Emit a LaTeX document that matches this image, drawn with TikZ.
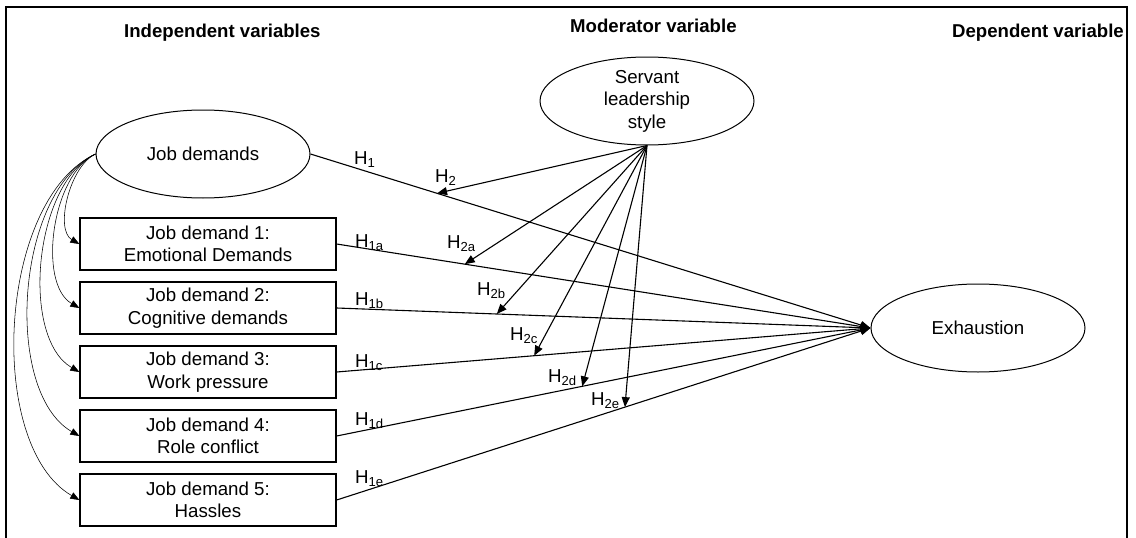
\documentclass[tikz,border=0pt]{standalone}
\usepackage{fontspec}
\setmainfont{Liberation Sans}
\usetikzlibrary{shapes,arrows.meta}

\begin{document}
\begin{tikzpicture} [x=1pt,y=1pt,
  txt/.style={font=\fontsize{18.7}{22.5}\selectfont},
  head/.style={font=\bfseries\fontsize{18.6}{21}\selectfont,anchor=base west,inner sep=0},
  ellip/.style={txt,shape=ellipse,draw,line width=1pt,minimum width=214pt,minimum height=88pt,inner sep=0,align=center},
  jbox/.style={txt,shape=rectangle,draw,line width=1.3pt,minimum width=256pt,minimum height=52pt,inner sep=0,align=center},
  arr/.style={line width=1.1pt,-{Triangle[length=10pt,width=8pt]}},
  cur/.style={line width=0.55pt,-{Triangle[length=9pt,width=7pt]}},
  lab/.style={txt,anchor=base west,inner sep=0}]
\useasboundingbox (0,0) rectangle (1136,-538);
\draw[line width=1.3pt] (6,-538) -- (6,-7) -- (1127,-7) -- (1127,-538);
\node[head] (hi) at (124,-37) {Independent variables};
\node[head] (hm) at (570,-32) {Moderator variable};
\node[head] (hd) at (952,-37) {Dependent variable};
\node[ellip] (jd) at (203,-154) {Job demands};
\node[ellip] (sl) at (647,-101) {Servant\\leadership\\style};
\node[ellip] (ex) at (978,-328) {Exhaustion};
\foreach \i/\t in {1/Emotional Demands,2/Cognitive demands,3/Work pressure,4/Role conflict,5/Hassles}{%
  \node[jbox] (b\i) at (208,{-244-64*(\i-1)}) {Job demand \i:\\\t};}
\draw[arr] (jd.east) -- coordinate[pos=0.226] (m0) (ex.west);
\foreach \i/\p in {1/0.24,2/0.30,3/0.37,4/0.46,5/0.54}{%
  \draw[arr] (b\i.east) -- coordinate[pos=\p] (m\i) (ex.west);}
\foreach \i in {0,...,5}{%
  \draw[arr] (sl.south) -- (m\i);}
\foreach \i in {1,...,5}{%
  \draw[cur] (jd.west) to[out=205,in=150,looseness=0.8] (b\i.west);}
\node[lab] (h1) at (354,-164) {H\textsubscript{1}};
\node[lab] (h2) at (435,-182) {H\textsubscript{2}};
\foreach \s/\y in {a/247,b/305,c/367,d/425,e/483}{%
  \node[lab] (h1\s) at (355,-\y) {H\textsubscript{1\s}};}
\foreach \s/\x/\y in {a/447/248,b/477/295,c/510/340,d/548/382,e/591/405}{%
  \node[lab] (h2\s) at (\x,-\y) {H\textsubscript{2\s}};}
\end{tikzpicture}
\end{document}
